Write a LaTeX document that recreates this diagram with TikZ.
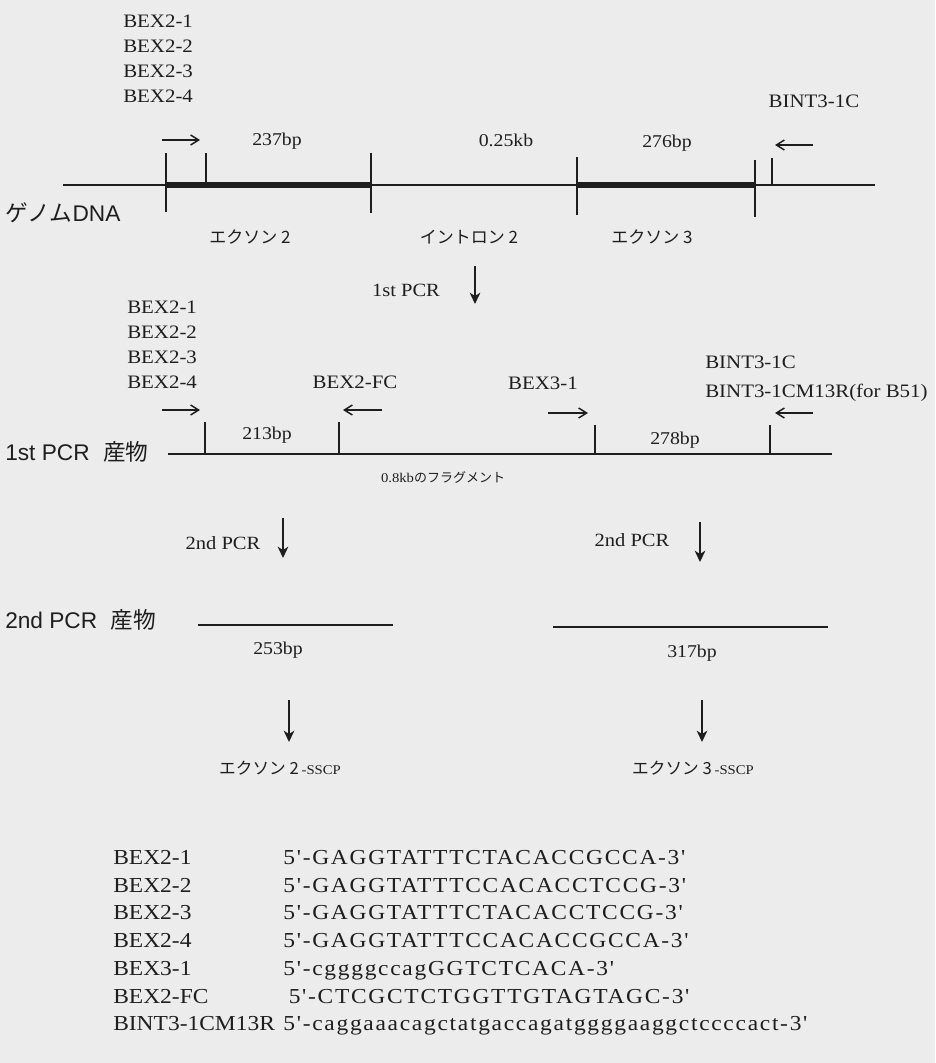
\documentclass[tikz,border=0pt]{standalone}
\usepackage{fontspec}
\setmainfont{Liberation Serif}[FakeStretch=1.1]
\newfontfamily\rowsans{Liberation Sans}
\newfontfamily\jpn{Noto Sans CJK JP}
\newfontfamily\seqfont{Liberation Serif}[FakeStretch=1.1,LetterSpace=8]
\usetikzlibrary{arrows.meta,positioning}
\definecolor{ScanInk}{HTML}{1E1E1E}
\definecolor{ScanPaper}{HTML}{ECECEC}

\begin{document}
\begin{tikzpicture}[x=0.75pt,y=-0.75pt,
    every node/.style={inner sep=0pt,text=ScanInk},
    primerlbl/.style={font=\fontsize{14.25}{18.75}\selectfont,align=left,anchor=north west},
    sizelbl/.style={font=\fontsize{13.5}{16}\selectfont},
    regionlbl/.style={font=\jpn\fontsize{12.75}{15}\selectfont},
    rowlbl/.style={font=\rowsans\fontsize{17}{20}\selectfont,anchor=west},
    steplbl/.style={font=\fontsize{14}{17}\selectfont},
    fraglbl/.style={font=\fontsize{10}{12}\selectfont},
    sscplbl/.style={font=\jpn\fontsize{12.5}{15}\selectfont},
    tablelbl/.style={font=\fontsize{16}{20.8}\selectfont,align=left,anchor=north west},
    seqlbl/.style={font=\seqfont\fontsize{16}{20.8}\selectfont,align=left},
    dna/.style={draw=ScanInk,line width=1.6pt},
    exon/.style={draw=ScanInk,line width=5.2pt},
    cutmark/.style={draw=ScanInk,line width=1.3pt},
    primer/.style={-{Straight Barb[length=6pt,width=7.5pt]},line width=1.1pt,draw=ScanInk},
    flow/.style={-{Stealth[length=8.5pt,width=8pt,inset=2.5pt]},line width=1.1pt,draw=ScanInk}
  ]
  \fill[ScanPaper] (0,0) rectangle (935,1063);
  \useasboundingbox (0,0) rectangle (935,1063);

  % genomic DNA
  \node[primerlbl] (gBex) at (123,15) {BEX2-1\\BEX2-2\\BEX2-3\\BEX2-4};
  \node[primerlbl,anchor=center] (gBint) at (814,101) {BINT3-1C};
  \node[sizelbl] (gLen2) at (277,141) {237bp};
  \node[sizelbl] (gLenI) at (506,140) {0.25kb};
  \node[sizelbl] (gLen3) at (667,143) {276bp};
  \node[rowlbl] (gRow) at (5,213) {{\jpn ゲノム}DNA};
  \node[regionlbl] (gEx2) at (250,237) {エクソン 2};
  \node[regionlbl] (gInt2) at (469,237) {イントロン 2};
  \node[regionlbl] (gEx3) at (652,237) {エクソン 3};

  \draw[dna] (63,185) -- (875,185);
  \draw[exon] (166,185) -- (371,185);
  \draw[exon] (577,185) -- (755,185);
  \draw[cutmark] (166,153) -- (166,212) (206,153) -- (206,185) (371,153) -- (371,213);
  \draw[cutmark] (577,157) -- (577,215) (755,160) -- (755,217) (772,158) -- (772,185);

  \coordinate (gF0) at (162,140); \coordinate (gF1) at (200,140);
  \coordinate (gR0) at (813,145); \coordinate (gR1) at (775,145);
  \draw[primer] (gF0) -- (gF1); \draw[primer] (gR0) -- (gR1);

  % 1st PCR
  \node[steplbl] (pcr1Lbl) at (406,290) {1st PCR};
  \coordinate (pcr1A) at (475,266); \coordinate (pcr1B) at (475,304);
  \draw[flow] (pcr1A) -- (pcr1B);

  % 1st PCR product
  \node[primerlbl] (pBex) at (127,301) {BEX2-1\\BEX2-2\\BEX2-3\\BEX2-4};
  \node[primerlbl,anchor=center] (pBexFC) at (355,382) {BEX2-FC};
  \node[primerlbl,anchor=center] (pBex3) at (543,383) {BEX3-1};
  \node[primerlbl,font=\fontsize{14.25}{21.75}\selectfont] (pBint) at (705,356) {BINT3-1C\\BINT3-1CM13R(for B51)};
  \node[sizelbl] (pLen2) at (267,435) {213bp};
  \node[sizelbl] (pLen3) at (675,440) {278bp};
  \node[rowlbl] (pRow) at (5,452) {1st PCR\hspace{0.6em}{\jpn 産物}};
  \node[fraglbl] (pFrag) at (443,477) {0.8kb{\jpn\fontsize{9.75}{12}\selectfont のフラグメント}};

  \draw[dna] (168,454) -- (832,454);
  \draw[cutmark] (205,422) -- (205,454) (339,422) -- (339,454) (595,425) -- (595,454) (770,425) -- (770,454);

  \coordinate (pF0) at (162,410); \coordinate (pF1) at (200,410);
  \coordinate (pC0) at (382,410); \coordinate (pC1) at (343,410);
  \coordinate (pE0) at (548,413); \coordinate (pE1) at (588,413);
  \coordinate (pR0) at (813,413); \coordinate (pR1) at (775,413);
  \draw[primer] (pF0) -- (pF1); \draw[primer] (pC0) -- (pC1);
  \draw[primer] (pE0) -- (pE1); \draw[primer] (pR0) -- (pR1);

  % 2nd PCR
  \node[steplbl] (pcr2LblA) at (223,543) {2nd PCR};
  \node[steplbl] (pcr2LblB) at (632,540) {2nd PCR};
  \coordinate (pcr2A0) at (283,518); \coordinate (pcr2A1) at (283,558);
  \coordinate (pcr2B0) at (700,522); \coordinate (pcr2B1) at (700,562);
  \draw[flow] (pcr2A0) -- (pcr2A1); \draw[flow] (pcr2B0) -- (pcr2B1);

  % 2nd PCR products
  \node[rowlbl] (sRow) at (5,620) {2nd PCR\hspace{0.6em}{\jpn 産物}};
  \draw[dna] (198,625) -- (393,625);
  \draw[dna] (553,627) -- (828,627);
  \node[sizelbl] (sLen2) at (278,650) {253bp};
  \node[sizelbl] (sLen3) at (692,653) {317bp};

  % SSCP
  \coordinate (ss2A) at (289,700); \coordinate (ss2B) at (289,742);
  \coordinate (ss3A) at (702,700); \coordinate (ss3B) at (702,742);
  \draw[flow] (ss2A) -- (ss2B); \draw[flow] (ss3A) -- (ss3B);
  \node[sscplbl] (sscp2) at (280,768) {エクソン 2\,{\rmfamily\fontsize{10}{12}\selectfont -SSCP}};
  \node[sscplbl] (sscp3) at (693,768) {エクソン 3\,{\rmfamily\fontsize{10}{12}\selectfont -SSCP}};

  % primer table
  \node[tablelbl] (tNames) at (113,850) {BEX2-1\\BEX2-2\\BEX2-3\\BEX2-4\\BEX3-1\\BEX2-FC\\BINT3-1CM13R};
  \node[seqlbl,right=6pt of tNames.north east,anchor=north west] (tSeqs) {5'-GAGGTATTTCTACACCGCCA-3'\\
    5'-GAGGTATTTCCACACCTCCG-3'\\
    5'-GAGGTATTTCTACACCTCCG-3'\\
    5'-GAGGTATTTCCACACCGCCA-3'\\
    5'-cggggccagGGTCTCACA-3'\\
    \hspace*{4pt}5'-CTCGCTCTGGTTGTAGTAGC-3'\\
    5'-caggaaacagctatgaccagatggggaaggctccccact-3'};
\end{tikzpicture}
\end{document}
